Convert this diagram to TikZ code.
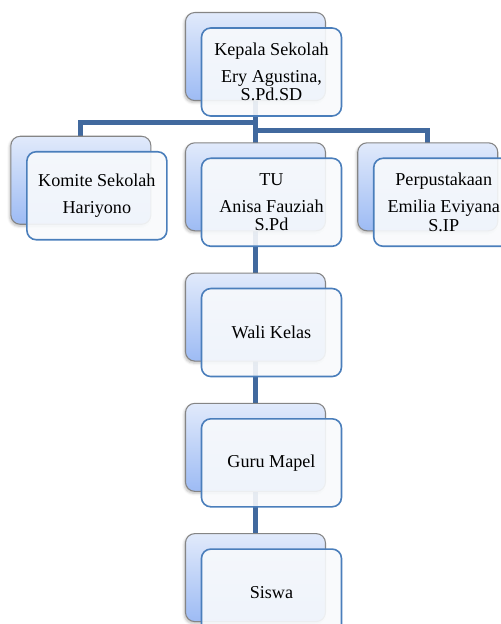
\documentclass[tikz,border=0pt]{standalone}
\usepackage{fontspec}
\setmainfont{Liberation Serif}
\usetikzlibrary{positioning, shadows.blur}
\definecolor{cline}{HTML}{41699E}
\definecolor{cedge}{HTML}{4A7EBB}
\definecolor{ctop}{HTML}{E1EAFB}
\definecolor{cbot}{HTML}{9DBBF4}
\definecolor{cgray}{HTML}{858585}
\pgfdeclarelayer{links}
\pgfdeclarelayer{cards}
\pgfsetlayers{links,cards,main}

\begin{document}
\begin{tikzpicture}[
  font=\fontsize{13.6}{14}\selectfont,
  box/.style={draw=cedge, line width=1.2pt, fill=white!96!cedge,
              fill opacity=0.9, text opacity=1, rounded corners=7pt,
              minimum width=105pt, minimum height=66pt,
              align=center, inner sep=2pt},
  card/.style={draw=cgray, line width=0.8pt, top color=ctop,
               bottom color=cbot, rounded corners=7pt,
               minimum width=105pt, minimum height=66pt,
               blur shadow={shadow xshift=-1pt, shadow yshift=-1.5pt,
                            shadow opacity=25}},
  link/.style={draw=cline, line width=3.75pt},
  node distance=30.5pt and 24pt,
]
\useasboundingbox (0,0) rectangle (375pt,-468pt);

\node[box] (kepala) at (203.6pt,-54pt) {Kepala Sekolah\\[6pt]Ery Agustina,\\S.Pd.SD};
\node[box, below=of kepala] (tu) {TU\\[6pt]Anisa Fauziah\\S.Pd};
\node[box, left=24.75pt of tu, yshift=4.9pt] (komite) {Komite Sekolah\\[6pt]Hariyono};
\node[box, right=23pt of tu] (perpus) {Perpustakaan\\[6pt]Emilia Eviyana\\S.IP};
\node[box, below=of tu] (wali) {Wali Kelas};
\node[box, below=of wali] (guru) {Guru Mapel};
\node[box, below=of guru] (siswa) {Siswa};

% cards behind each box
\begin{pgfonlayer}{cards}
\foreach \n in {kepala,tu,komite,perpus,wali,guru,siswa}
  \node[card] (\n-b) at ([shift={(-12pt,11.6pt)}]\n.center) {};
\end{pgfonlayer}

\begin{pgfonlayer}{links}
\draw[link] (kepala-b.center) -- (tu-b.center);
\draw[link] (kepala-b.center) |- ([yshift=9.75pt]komite-b.north) -- (komite-b.center);
\draw[link] (kepala-b.center) |- ([yshift=9pt]perpus-b.north) -- (perpus-b.center);
\draw[link] (tu-b.center) -- (wali-b.center);
\draw[link] (wali-b.center) -- (guru-b.center);
\draw[link] (guru-b.center) -- (siswa-b.center);
\end{pgfonlayer}
\end{tikzpicture}
\end{document}
